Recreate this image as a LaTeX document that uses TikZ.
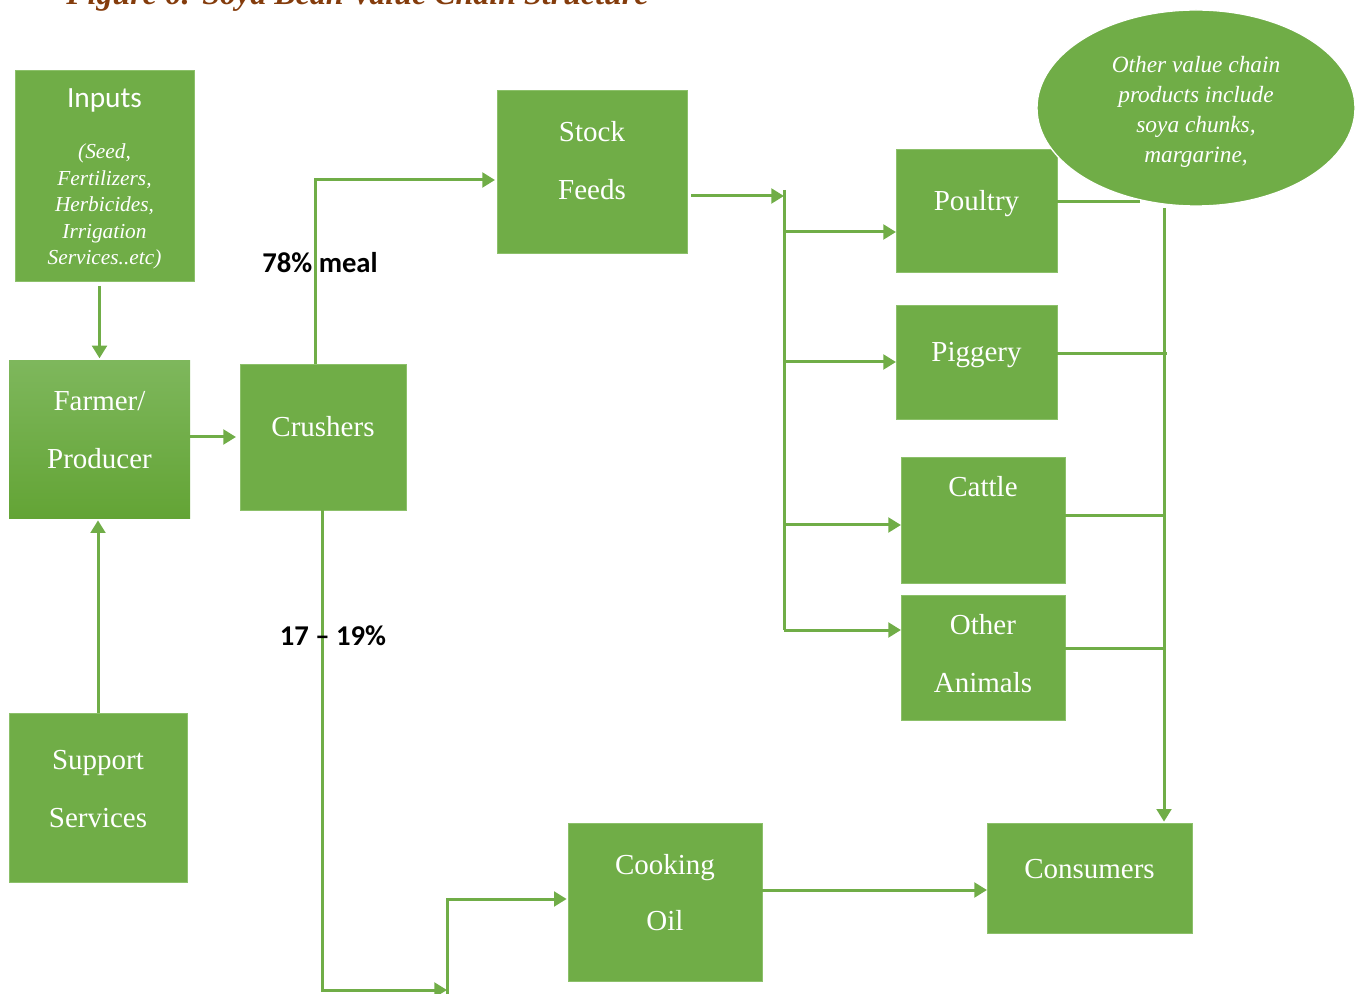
\documentclass[tikz,border=0pt]{standalone}
\usepackage{fontspec}
\setmainfont{Liberation Serif}
\newfontfamily\calib{Carlito}
\usetikzlibrary{arrows.meta,shapes.geometric,fit}
\definecolor{vc}{RGB}{112,173,71}
\definecolor{vcedge}{RGB}{140,192,106}
\definecolor{titlebrown}{RGB}{132,60,12}
\begin{document}
\begin{tikzpicture}[x=0.75pt,y=-0.75pt,
  box/.style={fill=vc, draw=vcedge, line width=0.6pt, inner sep=0pt, outer sep=0pt},
  boxtxt/.style={text=white, anchor=base, inner sep=0pt, font=\fontsize{21.75}{26}\selectfont},
  smalltxt/.style={text=white, anchor=base, inner sep=0pt, font=\fontsize{16}{20}\selectfont\itshape},
  elltxt/.style={text=white, anchor=base, inner sep=0pt, font=\fontsize{17.5}{20}\selectfont\itshape},
  pct/.style={text=black, anchor=base, inner sep=0pt, font=\calib\bfseries\fontsize{21.5}{26}\selectfont},
  line/.style={draw=vc, line width=2.25pt},
  arr/.style={line, -{Triangle[length=9.5pt,width=11pt]}}
]
\useasboundingbox (0,0) rectangle (1360,994);

% title (clipped at top, as in the reference)
\node[anchor=base west, inner sep=0pt, text=titlebrown, font=\fontsize{24}{28}\selectfont\bfseries\itshape] (title) at (66,5) {Figure 6: Soya Bean Value Chain Structure};

% boxes
\node[box, fit={(15,70) (194,281)}] (inputs) {};
\node[box, draw=none, top color={rgb,255:red,126;green,183;blue,92}, bottom color={rgb,255:red,99;green,164;blue,53}, fit={(9,361) (190,519)}] (farmer) {};
\node[box, fit={(240,364) (406,510)}] (crushers) {};
\node[box, fit={(497,90) (687,253)}] (stock) {};
\node[box, fit={(896,149) (1057,272)}] (poultry) {};
\node[box, fit={(896,305) (1057,419)}] (piggery) {};
\node[box, fit={(901,457) (1065,583)}] (cattle) {};
\node[box, fit={(901,595) (1065,720)}] (other) {};
\node[box, fit={(9,713) (187,882)}] (support) {};
\node[box, fit={(568,823) (762,981)}] (cooking) {};
\node[box, fit={(987,823) (1192,933)}] (consumers) {};
\node[ellipse, fill=vc, draw=white, line width=1pt, inner sep=0pt, minimum width=238.5pt, minimum height=147pt] (oval) at (1196,108) {};

% texts
\node[text=white, anchor=base, inner sep=0pt, font=\calib\fontsize{22}{26}\selectfont] (inputsT) at (104.5,108) {Inputs};
\node[smalltxt] (inL1) at (104.5,159) {(Seed,};
\node[smalltxt] (inL2) at (104.5,185.5) {Fertilizers,};
\node[smalltxt] (inL3) at (104.5,212) {Herbicides,};
\node[smalltxt] (inL4) at (104.5,238.5) {Irrigation};
\node[smalltxt] (inL5) at (104.5,265) {Services..etc)};

\node[boxtxt] (farmerT1) at (99.5,411) {Farmer/};
\node[boxtxt] (farmerT2) at (99.5,469) {Producer};
\node[boxtxt] (crushersT) at (323,437) {Crushers};
\node[boxtxt] (stockT1) at (592,142) {Stock};
\node[boxtxt] (stockT2) at (592,200) {Feeds};
\node[boxtxt] (poultryT) at (976.5,211) {Poultry};
\node[boxtxt] (piggeryT) at (976.5,362) {Piggery};
\node[boxtxt] (cattleT) at (983,497) {Cattle};
\node[boxtxt] (otherT1) at (983,634) {Other};
\node[boxtxt] (otherT2) at (983,692) {Animals};
\node[boxtxt] (supportT1) at (98,769) {Support};
\node[boxtxt] (supportT2) at (98,827) {Services};
\node[boxtxt] (cookingT1) at (665,874) {Cooking};
\node[boxtxt] (cookingT2) at (665,930) {Oil};
\node[boxtxt] (consumersT) at (1089.5,878) {Consumers};

\node[elltxt] (ovalT1) at (1196,73) {Other value chain};
\node[elltxt] (ovalT2) at (1196,103) {products include};
\node[elltxt] (ovalT3) at (1196,133) {soya chunks,};
\node[elltxt] (ovalT4) at (1196,163) {margarine,};

% connector coordinates
\coordinate (c1) at (315,180);
\coordinate (b1) at (322,990);
\coordinate (b2) at (447,990);
\coordinate (b3) at (447,899);
\coordinate (b4) at (447,1000);
\coordinate (s1) at (784,196);
\coordinate (lt) at (784,190);
\coordinate (j1) at (784,232);
\coordinate (j2) at (784,362);
\coordinate (j3) at (784,525);
\coordinate (j4) at (784,630);
\coordinate (rt) at (1164,208);
\coordinate (r1) at (1140,202);
\coordinate (r2) at (1167,354);
\coordinate (r3) at (1164,516);
\coordinate (r4) at (1164,648);
\coordinate (k1) at (0,890);

% connectors
\draw[arr, shorten <=3.75pt, shorten >=2pt] (inputs.south -| farmer.north) -- (farmer.north);
\draw[arr, shorten >=3pt] (farmer.east |- crushers.west) -- (crushers.west);
\draw[arr, shorten >=1pt] (support.north) -- (support.north |- farmer.south);
\draw[arr, shorten >=1.5pt] (crushers.north -| c1) |- (stock.west |- c1);
\draw[arr] (crushers.south -| b1) -- (b1) -- (b2);
\draw[arr, shorten >=1pt] (b4) -- (b3) -- (cooking.west |- b3);
\draw[arr, shorten <=3pt] (stock.east |- s1) -- (s1);
\draw[line] (lt) -- (j4);
\draw[arr] (j1) -- (poultry.west |- j1);
\draw[arr] (j2) -- (piggery.west |- j2);
\draw[arr] (j3) -- (cattle.west |- j3);
\draw[arr] (j4) -- (other.west |- j4);
\draw[line] (poultry.east |- r1) -- (r1);
\draw[line] (piggery.east |- r2) -- (r2);
\draw[line] (cattle.east |- r3) -- (r3);
\draw[line] (other.east |- r4) -- (r4);
\draw[arr, shorten >=1pt] (rt) -- (rt |- consumers.north);
\draw[arr] (cooking.east |- k1) -- (consumers.west |- k1);

% labels
\node[pct] (lab78) at (320,273) {78\% meal};
\node[pct] (lab17) at (333,645) {17 – 19\%};
\end{tikzpicture}
\end{document}
